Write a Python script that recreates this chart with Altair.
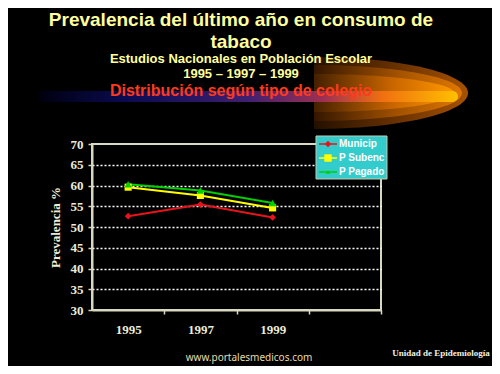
import altair as alt
import pandas as pd

# ---- data ----
years = [1995, 1997, 1999]
series = ["Municip", "P Subenc", "P Pagado"]
municip = [52.6, 55.4, 52.3]
p_subenc = [59.6, 57.6, 54.6]
p_pagado = [60.3, 58.8, 55.8]
series_colors = ["#e8141c", "#ffff00", "#00d000"]
series_shapes = ["diamond", "square", "triangle-up"]
series_sizes = [45, 55, 18]

y_ticks = [30, 35, 40, 45, 50, 55, 60, 65, 70]
x_tick_values = [1995, 1996, 1997, 1998, 1999, 2000, 2001, 2002]

title_lines = ["Prevalencia del último año en consumo de", "tabaco"]
subtitle_lines = ["Estudios Nacionales en Población Escolar", "1995 – 1997 – 1999"]
red_line = "Distribución según tipo de colegio"
y_title = "Prevalencia  %"
footer_site = "www.portalesmedicos.com"
footer_unit = "Unidad de Epidemiología"

# ---- styling ----
FRAME = "#d8d8c0"
TITLE_YELLOW = "#ffff9c"
LABEL = "#ececd8"
TICK_FONT = "Liberation Sans Narrow"
HEAD_FONT = "Liberation Sans"

rows = []
for name, vals in zip(series, [municip, p_subenc, p_pagado]):
    for yr, v in zip(years, vals):
        rows.append({"year": yr, "value": v, "series": name})
df = pd.DataFrame(rows)
dummy = pd.DataFrame({"d": [0]})

x_enc = alt.X(
    "year:Q",
    scale=alt.Scale(domain=[1994, 2002], nice=False, zero=False),
    axis=alt.Axis(
        values=x_tick_values, format="d", title=None, grid=False,
        labelExpr="(datum.value % 2 == 1 && datum.value < 2000) ? datum.label : ''",
        tickOpacity={"condition": {"test": "datum.value % 2 == 0", "value": 1}, "value": 0},
        tickSize=4, tickColor=FRAME, tickWidth=1.5,
        domainColor=FRAME, domainWidth=2,
        labelFont=TICK_FONT, labelFontWeight="bold", labelFontSize=13,
        labelColor=LABEL, labelPadding=9, labelOverlap=False, labelFlush=False,
    ),
)
y_enc = alt.Y(
    "value:Q",
    scale=alt.Scale(domain=[30, 70], nice=False, zero=False),
    axis=alt.Axis(
        values=y_ticks, grid=True, gridDash=[2, 2], gridColor="white", gridWidth=1.5,
        gridOpacity={"condition": {"test": "datum.value == 30 || datum.value == 70", "value": 0}, "value": 1},
        tickSize=4, tickColor=FRAME, tickWidth=1.5,
        domainColor=FRAME, domainWidth=2,
        labelFont=TICK_FONT, labelFontWeight="bold", labelFontSize=13,
        labelColor=LABEL, labelPadding=5, labelOverlap=False,
        title=y_title, titleFont="Liberation Serif", titleFontWeight="bold",
        titleFontSize=13, titleColor=LABEL, titlePadding=8,
    ),
)

color_scale = alt.Scale(domain=series, range=series_colors)
shape_scale = alt.Scale(domain=series, range=series_shapes)
size_scale = alt.Scale(domain=series, range=series_sizes)

lines = alt.Chart(df).mark_line(strokeWidth=2).encode(
    x=x_enc, y=y_enc,
    color=alt.Color("series:N", scale=color_scale, legend=None),
    detail="series:N",
)
points = alt.Chart(df).mark_point(filled=True, opacity=1).encode(
    x=x_enc, y=y_enc,
    color=alt.Color("series:N", scale=color_scale, legend=None),
    shape=alt.Shape("series:N", scale=shape_scale, legend=None),
    size=alt.Size("series:N", scale=size_scale, legend=None),
)

# ---- decoration: comet (nested half-ellipses) and streak ----
def half_ellipse(rx_px, ry_px, stops):
    ratio = ry_px / rx_px
    path = f"M0,-{ratio:.4f}A1,{ratio:.4f},0,0,1,0,{ratio:.4f}Z"
    return alt.Chart(dummy).mark_point(
        shape=path, filled=True, opacity=1, strokeWidth=0,
        fill=alt.LinearGradient(
            gradient="linear", x1=0, y1=0, x2=1, y2=0,
            stops=[alt.GradientStop(color=c, offset=o) for o, c in stops],
        ),
    ).encode(x=alt.value(222), y=alt.value(-51), size=alt.value((2 * rx_px) ** 2))

comet_layers = [
    half_ellipse(154, 36, [(0, "#241000"), (0.55, "#6a3200"), (1, "#a85200")]),
    half_ellipse(148, 28, [(0, "#341600"), (0.55, "#a05000"), (1, "#e07800")]),
    half_ellipse(140, 19, [(0, "#442000"), (0.55, "#c86400"), (1, "#ff9800")]),
]

streak = alt.Chart(dummy).mark_rect(
    cornerRadiusTopRight=6, cornerRadiusBottomRight=6,
    fill=alt.LinearGradient(
        gradient="linear", x1=0, y1=0, x2=1, y2=0,
        stops=[
            alt.GradientStop(color="#000010", offset=0.0),
            alt.GradientStop(color="#0a0a50", offset=0.2),
            alt.GradientStop(color="#402070", offset=0.5),
            alt.GradientStop(color="#a03050", offset=0.68),
            alt.GradientStop(color="#f07010", offset=0.82),
            alt.GradientStop(color="#ffc000", offset=1.0),
        ],
    ),
).encode(x=alt.value(-52), x2=alt.value(366), y=alt.value(-53), y2=alt.value(-42))

def text_layer(txt, x, y, size, color, font=HEAD_FONT, weight="bold", align="center"):
    return alt.Chart(dummy).mark_text(
        font=font, fontSize=size, fontWeight=weight, color=color,
        align=align, baseline="middle",
    ).encode(x=alt.value(x), y=alt.value(y), text=alt.value(txt))

texts = [
    text_layer(title_lines[0], 149, -124, 19, TITLE_YELLOW),
    text_layer(title_lines[1], 149, -102, 19, TITLE_YELLOW),
    text_layer(subtitle_lines[0], 149, -85, 13, TITLE_YELLOW),
    text_layer(subtitle_lines[1], 149, -70, 13, TITLE_YELLOW),
    text_layer(red_line, 149, -53, 16, "#ff3a1c"),
    text_layer(footer_site, 157, 214, 10, "#e6dca8", font="Noto Sans", weight="normal"),
    text_layer(footer_unit, 349, 209, 9, "#f0f0e0", font="Liberation Serif", weight="bold"),
]

# ---- legend box (manual) ----
legend_box = alt.Chart(dummy).mark_rect(fill="#33cccc", stroke="#c8c8b0", strokeWidth=1).encode(
    x=alt.value(224), x2=alt.value(295), y=alt.value(-8), y2=alt.value(35)
)
legend_layers = [legend_box]
for i, (name, col, shp, sz) in enumerate(zip(series, series_colors, series_shapes, series_sizes)):
    yy = i * 14
    legend_layers.append(
        alt.Chart(dummy).mark_rule(color=col, strokeWidth=1.5).encode(
            x=alt.value(227), x2=alt.value(245), y=alt.value(yy))
    )
    legend_layers.append(
        alt.Chart(dummy).mark_point(shape=shp, filled=True, color=col, opacity=1).encode(
            x=alt.value(236), y=alt.value(yy), size=alt.value(sz))
    )
    legend_layers.append(
        text_layer(name, 247, yy, 10, "white", font="Liberation Sans", align="left")
    )

chart = alt.layer(
    *comet_layers, streak, *texts, lines, points, *legend_layers
).properties(
    width=289, height=166,
    background="black",
    padding={"left": 84, "top": 136, "right": 111, "bottom": 56},
    autosize=alt.AutoSizeParams(type="none"),
).configure_view(stroke=FRAME, strokeWidth=2)

chart.save("out.html", embed_options={"renderer": "svg", "actions": False})
